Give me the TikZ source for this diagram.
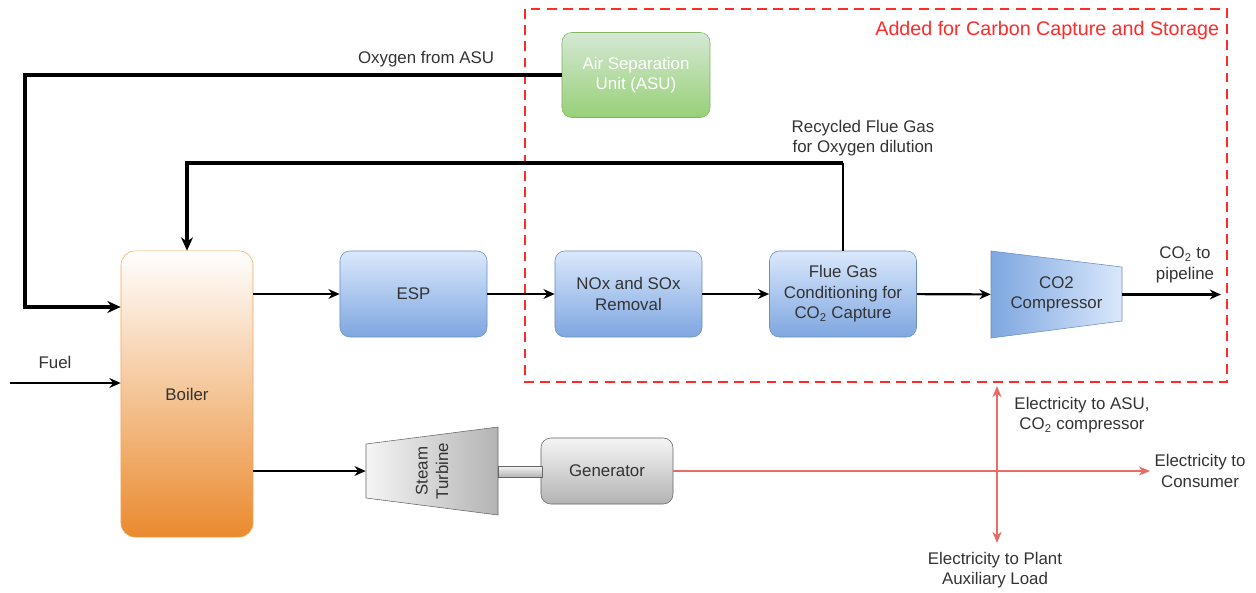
\documentclass[tikz,border=0pt]{standalone}
\usepackage{fontspec}
\setmainfont{Liberation Sans}
\usetikzlibrary{arrows.meta,calc}
\definecolor{txtgray}{HTML}{333333}
\definecolor{blueline}{HTML}{6C8EBF}
\definecolor{bluetop}{HTML}{DAE8FC}
\definecolor{bluebot}{HTML}{7EA6E0}
\definecolor{greenline}{HTML}{82B366}
\definecolor{greentop}{HTML}{D5E8D4}
\definecolor{greenbot}{HTML}{97D077}
\definecolor{orangeline}{HTML}{F5A85A}
\definecolor{orangebot}{HTML}{EA8A2E}
\definecolor{grayline}{HTML}{666666}
\definecolor{graytop}{HTML}{F5F5F5}
\definecolor{graybot}{HTML}{B3B3B3}
\definecolor{elecred}{HTML}{EA6B66}
\definecolor{ccsred}{HTML}{FF2A2A}

\begin{document}
\begin{tikzpicture}[x=0.025cm,y=-0.025cm,
  font=\fontsize{12}{14.5}\selectfont, text=txtgray,
  unit/.style={rounded corners=7pt, draw=blueline, top color=bluetop, bottom color=bluebot,
    align=center, minimum width=3.675cm, minimum height=2.15cm, inner sep=1pt},
  flow/.style={-{Stealth[length=8pt,width=7pt]}, line width=1.5pt, black},
  feed/.style={-{Stealth[length=9.5pt,width=8.5pt]}, line width=2.6pt, black},
  power/.style={-{Stealth[length=8pt,width=6.5pt]}, line width=1pt, elecred},
  lbl/.style={align=center, inner sep=1pt}]
\useasboundingbox (0,0) rectangle (1256,592);

% region added for CCS
\draw [ccsred, line width=2pt, dash pattern=on 7pt off 4.5pt] (525,9) rectangle (1227,382);
\node [anchor=east, text=ccsred, font=\fontsize{14}{16}\selectfont] (ccslbl) at (1224,30) {Added for Carbon Capture and Storage};

% main units
\node [unit, draw=orangeline, top color=white, bottom color=orangebot, rounded corners=10pt,
  minimum width=3.3cm, minimum height=7.15cm] (boiler) at (187,394) {Boiler};
\node [unit] (esp) at (413.5,294) {ESP};
\node [unit] (nox) at (628.5,294) {NOx and SOx\\Removal};
\node [unit] (fgc) at (843,294) {Flue Gas\\Conditioning for\\CO\textsubscript{2} Capture};
\node [unit, draw=greenline, top color=greentop, bottom color=greenbot, text=white,
  minimum width=3.7cm, minimum height=2.125cm] (asu) at (636,75) {Air Separation\\Unit (ASU)};
\node [unit, draw=grayline, top color=graytop, bottom color=graybot,
  minimum width=3.3cm, minimum height=1.65cm] (gen) at (607,471) {Generator};

% compressor and turbine
\shade [draw=blueline, left color=bluebot, right color=bluetop] (991,251) -- (1122,267) -- (1122,321) -- (991,338) -- cycle;
\node [lbl, minimum width=3.275cm, minimum height=2.175cm] (comp) at (1056.5,294.5) {CO2\\Compressor};
\shade [draw=grayline, left color=graytop, right color=graybot] (366,444) -- (498,427) -- (498,515) -- (366,498) -- cycle;
\shade [draw=grayline, top color=graytop, bottom color=graybot] (498,466) rectangle (542,477);
\node [lbl, minimum width=3.3cm, minimum height=2.2cm] (turb) at (432,471) {};
\node [lbl, rotate=90] (turblbl) at (turb) {Steam\\Turbine};

% free ends
\coordinate (o2in) at (25,307);
\coordinate (rfg) at (843,163);
\coordinate (fuel) at (10,383);
\coordinate (pipe) at (1221,294.5);
\coordinate (cons) at (1150,471);
\coordinate (eup) at (997,386);
\coordinate (edown) at (997,543);

% gas path
\draw [flow] (boiler.east |- esp.west) -- (esp.west);
\draw [flow] (esp) -- (nox);
\draw [flow] (nox) -- (fgc);
\draw [flow] (fgc) -- (comp);
\draw [flow] (comp.east) -- (pipe);
\draw [flow] (fuel) -- (boiler.west |- fuel);
\draw [feed] (asu.west) -| (o2in) -- (boiler.west |- o2in);
\draw [line width=1.3pt] (fgc.north) -- (rfg);
\draw [feed] (rfg) -| (boiler.north);

% steam and power
\draw [flow] (boiler.east |- turb.west) -- (turb.west);
\draw [power] (gen.east) -- (cons);
\draw [power, {Stealth[length=8pt,width=6.5pt]}-{Stealth[length=8pt,width=6.5pt]}] (eup) -- (edown);

% labels
\node [lbl] (o2lbl) at (426,59) {Oxygen from ASU};
\node [lbl] (rfglbl) at (863,138) {Recycled Flue Gas\\for Oxygen dilution};
\node [lbl] (pipelbl) at (1185,265) {CO\textsubscript{2} to\\pipeline};
\node [lbl] (fuellbl) at (55,362) {Fuel};
\node [lbl] (asuelbl) at (1082,415) {Electricity to ASU,\\CO\textsubscript{2} compressor};
\node [lbl] (conslbl) at (1200,471) {Electricity to\\Consumer};
\node [lbl] (auxlbl) at (995,570) {Electricity to Plant\\Auxiliary Load};
\end{tikzpicture}
\end{document}
